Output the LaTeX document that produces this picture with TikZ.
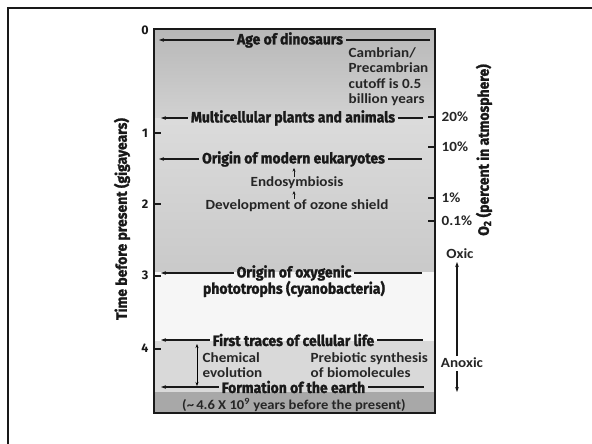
\documentclass[tikz,border=0pt]{standalone}
\usepackage{fontspec}
\usepackage{graphicx}
\setmainfont{Fira Sans}
\newfontfamily\semib{Carlito}[FakeStretch=1.08]
\usetikzlibrary{arrows.meta}
\newcommand\hlt[1]{\scalebox{0.93}[1]{\bfseries\addfontfeature{FakeBold=1.5}#1}}
\definecolor{gA}{gray}{0.72}
\definecolor{gB}{gray}{0.82}
\definecolor{gC}{gray}{0.86}
\definecolor{gD}{gray}{0.79}
\definecolor{gE}{gray}{0.965}
\definecolor{gF}{gray}{0.85}
\definecolor{gG}{gray}{0.66}
\begin{document}
\begin{tikzpicture}[x=1pt,y=-1pt,
  hl/.style={font=\fontsize{15}{17}\selectfont, inner xsep=3pt, inner ysep=0pt, text=black!90},
  sb/.style={font=\semib\bfseries\fontsize{14}{15.5}\selectfont, inner sep=0.5pt, text=black!85},
  tk/.style={font=\bfseries\fontsize{12.5}{14}\selectfont, inner sep=1pt, text=black!90},
  arr/.style={line width=1.4pt, draw=black!90, -{Stealth[length=5pt,width=3.6pt]}},
  ln/.style={line width=1.4pt, draw=black!90},
  tick/.style={line width=1.6pt, draw=black!90},
  sarr/.style={line width=0.9pt, draw=black!90, -{Stealth[length=3.5pt,width=3pt]}}]
\useasboundingbox (0,0) rectangle (592,444);
\fill[white] (0,0) rectangle (592,444);
% outer frame
\draw[line width=2.4pt, black!90] (8,444) -- (8,8) -- (592,8);
% background of the column
\shade[top color=gA, bottom color=gB] (154,29) rectangle (435,118);
\shade[top color=gC, bottom color=gD] (154,118) rectangle (435,272);
\fill[gE] (154,272) rectangle (435,341);
\fill[gF] (154,341) rectangle (435,392);
\fill[gG] (154,392) rectangle (435,413);
\draw[line width=2pt, black!90] (154,29) rectangle (435,413);
% left axis
\node[tk] (t0) at (145,30) {0};
\node[tk] (t1) at (145,133) {1};
\node[tk] (t2) at (145,204) {2};
\node[tk] (t3) at (145,275) {3};
\node[tk] (t4) at (145,348) {4};
\coordinate (k1) at (154,133); \coordinate (k2) at (154,204);
\coordinate (k3) at (154,276); \coordinate (k4) at (154,349);
\foreach \k in {k1,k2,k3,k4} \draw[tick] (\k) -- ++(7,0);
\node[hl, rotate=90] (tlab) at (122,219) {\hlt{Time before present (gigayears)}};
% right axis
\coordinate (r20) at (435,117); \coordinate (r10) at (435,147);
\coordinate (r1) at (435,198); \coordinate (r01) at (435,221);
\foreach \k in {r20,r10,r1,r01} \draw[tick] (\k) -- ++(-7,0);
\node[sb, anchor=west] (p20) at (441,117) {20\%};
\node[sb, anchor=west] (p10) at (441,147) {10\%};
\node[sb, anchor=west] (p1) at (441,198) {1\%};
\node[sb, anchor=west] (p01) at (441,221) {0.1\%};
\node[hl, rotate=90] (olab) at (484,150) {\hlt{O\textsubscript{2} (percent in atmosphere)}};
\node[sb] (oxic) at (460,254) {Oxic};
\node[sb] (anoxic) at (462,363) {Anoxic};
\coordinate (oxT) at (457,262); \coordinate (oxB) at (457,356);
\coordinate (anT) at (457,371); \coordinate (anB) at (457,392);
\draw[arr] (oxB) -- (oxT);
\draw[arr] (anT) -- (anB);
% events
\node[hl] (dino) at (290,40) {\hlt{Age of dinosaurs}};
\coordinate (dinoL) at (159,40); \coordinate (dinoR) at (430,40);
\draw[arr] (dino.west) -- (dinoL); \draw[ln] (dino.east) -- (dinoR);
\node[sb, anchor=west, align=left] (camb) at (348,76.5) {Cambrian/\\Precambrian\\cutoff is 0.5\\billion years};
\node[hl] (multi) at (293,118) {\hlt{Multicellular plants and animals}};
\coordinate (multiL) at (161,118); \coordinate (multiR) at (423,118);
\draw[arr] (multi.west) -- (multiL); \draw[ln] (multi.east) -- (multiR);
\node[hl] (euk) at (293.5,159) {\hlt{Origin of modern eukaryotes}};
\coordinate (eukL) at (159,159); \coordinate (eukR) at (422,159);
\draw[arr] (euk.west) -- (eukL); \draw[ln] (euk.east) -- (eukR);
\node[sb] (endo) at (297,183) {Endosymbiosis};
\node[sb] (ozone) at (297,206) {Development of ozone shield};
\coordinate (e1a) at (294,177); \coordinate (e1b) at (294,168);
\coordinate (e2a) at (294,199); \coordinate (e2b) at (294,191);
\draw[sarr] (e1a) -- (e1b);
\draw[sarr] (e2a) -- (e2b);
\node[hl] (oxy) at (294,273) {\hlt{Origin of oxygenic}};
\node[hl] (photo) at (294,289) {\hlt{phototrophs (cyanobacteria)}};
\coordinate (oxyL) at (161,273); \coordinate (oxyR) at (422,273);
\draw[arr] (oxy.west) -- (oxyL); \draw[ln] (oxy.east) -- (oxyR);
\node[hl] (cell) at (293.5,340) {\hlt{First traces of cellular life}};
\coordinate (cellL) at (161,340); \coordinate (cellR) at (423,340);
\draw[arr] (cell.west) -- (cellL); \draw[ln] (cell.east) -- (cellR);
\node[sb, anchor=west, align=left] (chem) at (202,365) {Chemical\\evolution};
\node[sb, anchor=west, align=left] (preb) at (310,365) {Prebiotic synthesis\\of biomolecules};
\coordinate (chemT) at (197,344); \coordinate (chemB) at (197,386);
\draw[line width=1pt, {Stealth[length=4pt,width=3pt]}-{Stealth[length=4pt,width=3pt]}] (chemT) -- (chemB);
\node[hl] (earth) at (293.5,387) {\hlt{Formation of the earth}};
\coordinate (earthL) at (161,387); \coordinate (earthR) at (424,387);
\draw[arr] (earth.west) -- (earthL); \draw[ln] (earth.east) -- (earthR);
\node[sb, font=\semib\bfseries\fontsize{13.5}{15}\selectfont] (age) at (294,405) {(\textasciitilde\,4.6 X 10\textsuperscript{9} years before the present)};
\end{tikzpicture}
\end{document}
